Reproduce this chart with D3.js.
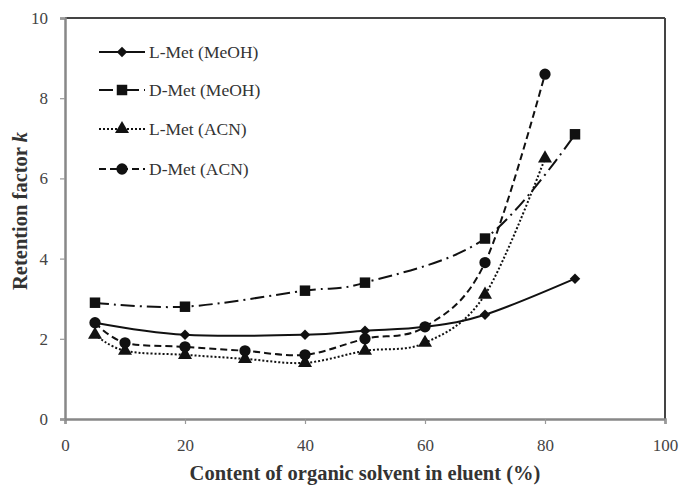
<!DOCTYPE html>
<html>
<head>
<meta charset="utf-8">
<script src="https://cdn.jsdelivr.net/npm/d3@7"></script>
<style>
  body { margin: 0; background: #fff; }
  svg { display: block; font-family: "Liberation Serif", "Times New Roman", serif; }
</style>
</head>
<body>
<div id="chartContainer"></div>
<script>
// values
var seriesNames = ['L-Met (MeOH)', 'D-Met (MeOH)', 'L-Met (ACN)', 'D-Met (ACN)']

var lMetMeohX = [5, 20, 40, 50, 60, 70, 85]
var lMetMeohK = [2.4, 2.1, 2.1, 2.2, 2.3, 2.6, 3.5]

var dMetMeohX = [5, 20, 40, 50, 70, 85]
var dMetMeohK = [2.9, 2.8, 3.2, 3.4, 4.5, 7.1]

var lMetAcnX = [5, 10, 20, 30, 40, 50, 60, 70, 80]
var lMetAcnK = [2.1, 1.7, 1.6, 1.5, 1.4, 1.7, 1.9, 3.1, 6.5]

var dMetAcnX = [5, 10, 20, 30, 40, 50, 60, 70, 80]
var dMetAcnK = [2.4, 1.9, 1.8, 1.7, 1.6, 2.0, 2.3, 3.9, 8.6]

var xTicks = [0, 20, 40, 60, 80, 100]
var yTicks = [0, 2, 4, 6, 8, 10]

function zipPoints(xs, ks) {
    return xs.map(function(x, i) { return { x: x, k: ks[i] } })
}

// rot: the diamond is a square turned 45 degrees
var series = [
    { name: seriesNames[0], points: zipPoints(lMetMeohX, lMetMeohK), dash: null, symbol: d3.symbolSquare, size: 55, rot: 45 },
    { name: seriesNames[1], points: zipPoints(dMetMeohX, dMetMeohK), dash: '14,5,2,5', symbol: d3.symbolSquare, size: 110, rot: 0 },
    { name: seriesNames[2], points: zipPoints(lMetAcnX, lMetAcnK), dash: '2,2', symbol: d3.symbolTriangle, size: 85, rot: 0 },
    { name: seriesNames[3], points: zipPoints(dMetAcnX, dMetAcnK), dash: '7,4', symbol: d3.symbolCircle, size: 100, rot: 0 }
]

var width = 681, height = 485
var margin = { top: 18, right: 16, bottom: 66, left: 65 }

var svg = d3.select('#chartContainer').append('svg')
    .attr('width', width)
    .attr('height', height)

var xScale = d3.scaleLinear()
    .domain([0, 100])
    .range([margin.left, width - margin.right])

var yScale = d3.scaleLinear()
    .domain([0, 10])
    .range([height - margin.bottom, margin.top])

// frame: top and right darker, axes grey
svg.append('line')
    .attr('x1', xScale(0)).attr('x2', xScale(100))
    .attr('y1', yScale(10)).attr('y2', yScale(10))
    .style('stroke', '#444').style('stroke-width', 2)
svg.append('line')
    .attr('x1', xScale(100)).attr('x2', xScale(100))
    .attr('y1', yScale(10)).attr('y2', yScale(0))
    .style('stroke', '#444').style('stroke-width', 2)

var xAxis = svg.append('g')
    .attr('transform', 'translate(0,' + yScale(0) + ')')
    .call(d3.axisBottom(xScale).tickValues(xTicks).tickSize(5).tickPadding(15).tickFormat(d3.format('d')))

var yAxis = svg.append('g')
    .attr('transform', 'translate(' + xScale(0) + ',0)')
    .call(d3.axisLeft(yScale).tickValues(yTicks).tickSize(5).tickPadding(12).tickFormat(d3.format('d')))

svg.selectAll('.domain').style('stroke', '#888').style('stroke-width', 2.5)
svg.selectAll('.tick line').style('stroke', '#999').style('stroke-width', 1.2)
svg.selectAll('.tick text')
    .style('font-family', '"Liberation Serif", serif')
    .style('font-size', '17px')
    .style('fill', '#444')

// axis titles
svg.append('text')
    .attr('x', (xScale(0) + xScale(100)) / 2)
    .attr('y', 480)
    .attr('text-anchor', 'middle')
    .style('font-size', '20.5px')
    .style('font-weight', 'bold')
    .style('fill', '#333')
    .text('Content of organic solvent in eluent (%)')

var yTitle = svg.append('text')
    .attr('transform', 'translate(27,211) rotate(-90)')
    .attr('text-anchor', 'middle')
    .style('font-size', '20.5px')
    .style('font-weight', 'bold')
    .style('fill', '#333')
yTitle.append('tspan').text('Retention factor ')
yTitle.append('tspan').style('font-style', 'italic').text('k')

var line = d3.line()
    .x(function(d) { return xScale(d.x) })
    .y(function(d) { return yScale(d.k) })
    .curve(d3.curveCatmullRom.alpha(0))

series.forEach(function(s) {
    svg.append('path')
        .datum(s.points)
        .attr('d', line)
        .style('fill', 'none')
        .style('stroke', '#111')
        .style('stroke-width', 2)
        .style('stroke-dasharray', s.dash)

    svg.selectAll(null)
        .data(s.points)
        .enter()
        .append('path')
        .attr('d', d3.symbol().type(s.symbol).size(s.size))
        .attr('transform', function(d) { return 'translate(' + xScale(d.x) + ',' + yScale(d.k) + ') rotate(' + s.rot + ')' })
        .style('fill', '#111')
})

// legend
var legend = svg.append('g')
var legendY = [52, 90, 129, 169]

series.forEach(function(s, i) {
    var row = legend.append('g').attr('transform', 'translate(0,' + legendY[i] + ')')
    row.append('line')
        .attr('x1', 99).attr('x2', 145)
        .attr('y1', 0).attr('y2', 0)
        .style('stroke', '#111')
        .style('stroke-width', 2)
        .style('stroke-dasharray', s.dash)
    row.append('path')
        .attr('d', d3.symbol().type(s.symbol).size(s.size))
        .attr('transform', 'translate(122,0) rotate(' + s.rot + ')')
        .style('fill', '#111')
    row.append('text')
        .attr('x', 149)
        .attr('y', 6)
        .style('font-size', '17.5px')
        .style('fill', '#333')
        .text(s.name)
})
</script>
</body>
</html>
